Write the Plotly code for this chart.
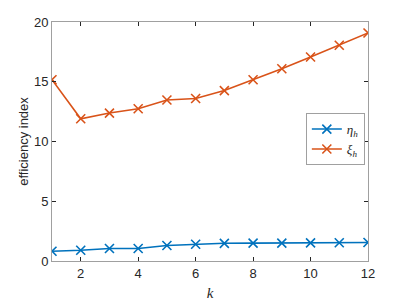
import plotly.graph_objects as go

k = [1, 2, 3, 4, 5, 6, 7, 8, 9, 10, 11, 12]
eta_h = [0.82, 0.90, 1.05, 1.05, 1.30, 1.40, 1.48, 1.50, 1.50, 1.52, 1.53, 1.55]
xi_h = [15.17, 11.90, 12.38, 12.74, 13.47, 13.60, 14.26, 15.17, 16.09, 17.07, 18.05, 19.08]
x_ticks = [2, 4, 6, 8, 10, 12]
y_ticks = [0, 5, 10, 15, 20]

blue = "#0072BD"
orange = "#D95319"
font = "Liberation Sans, Arial, sans-serif"

fig = go.Figure()
for name, vals, col in [("<i>η<sub>h</sub></i>", eta_h, blue), ("<i>ξ<sub>h</sub></i>", xi_h, orange)]:
    fig.add_trace(go.Scatter(
        x=k, y=vals, mode="lines+markers", name=name,
        line=dict(color=col, width=1.6),
        marker=dict(symbol="x-thin", size=9, line=dict(color=col, width=1.6), color=col),
    ))

axis_common = dict(
    showgrid=False, zeroline=False, ticks="inside", ticklen=4, tickwidth=1,
    tickcolor="#262626", showline=True, linecolor="#a0a0a0", linewidth=1, mirror="ticks",
    tickfont=dict(family=font, size=13, color="#262626"), automargin=False,
)
fig.update_xaxes(range=[1, 12], tickvals=x_ticks,
                 title=dict(text="<i>k</i>", font=dict(family="Liberation Serif, serif", size=15, color="#262626"), standoff=7),
                 **axis_common)
fig.update_yaxes(range=[0, 20], tickvals=y_ticks,
                 title=dict(text="efficiency index", font=dict(family=font, size=13, color="#262626"), standoff=2),
                 **axis_common)

fig.update_layout(
    width=407, height=305,
    margin=dict(l=44, r=47, t=14, b=52),
    plot_bgcolor="white", paper_bgcolor="white",
    legend=dict(x=0.99, y=0.51, xanchor="right", yanchor="middle",
                bgcolor="white", bordercolor="#a0a0a0", borderwidth=1,
                font=dict(family="Liberation Serif, serif", size=13, color="#262626"),
                tracegroupgap=0, itemwidth=30),
    showlegend=True,
)

fig.write_html("out.html")
